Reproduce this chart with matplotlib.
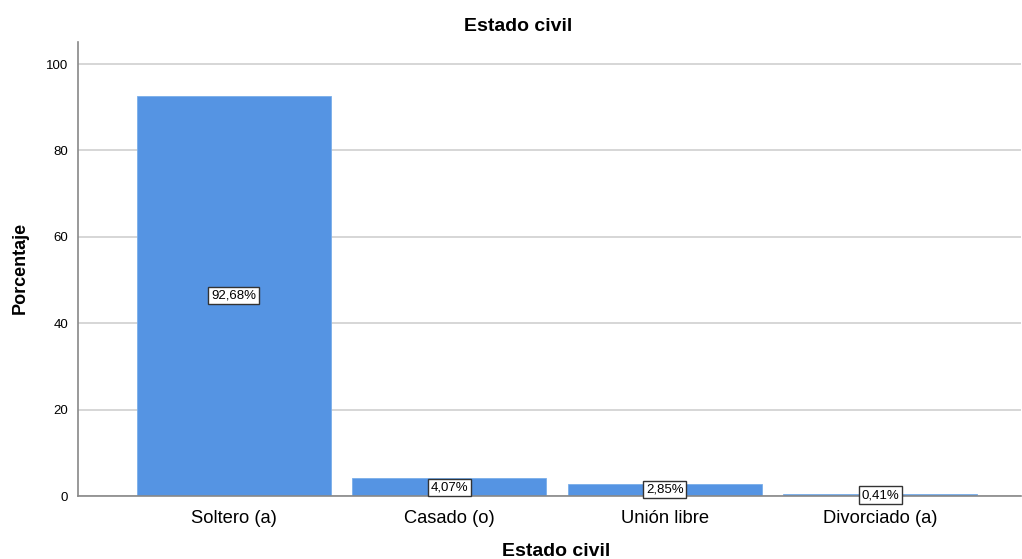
import matplotlib
matplotlib.use("Agg")
from matplotlib import pyplot as plt

categories = ["Soltero (a)", "Casado (o)", "Unión libre", "Divorciado (a)"]
percentages = [92.68, 4.07, 2.85, 0.41]
value_labels = ["92,68%", "4,07%", "2,85%", "0,41%"]
y_ticks = [0, 20, 40, 60, 80, 100]

plt.rcParams['font.family'] = ['Liberation Sans', 'DejaVu Sans']

fig = plt.figure(figsize=(10.22, 5.59), dpi=100)
ax = fig.add_axes([0.0763, 0.1127, 0.9227, 0.8122])

x = list(range(len(categories)))
ax.bar(x, percentages, width=0.9, color="#5594e3", edgecolor="#7aaeea", linewidth=0.6, zorder=2)

for xi, v, lab in zip(x, percentages, value_labels):
    ax.text(xi, v / 2, lab, ha="center", va="center", fontsize=9.5, zorder=4,
            bbox=dict(boxstyle="square,pad=0.2", facecolor="white", edgecolor="#333333", linewidth=1.0))

ax.set_xlim(-0.722, 3.652)
ax.set_ylim(0, 105.1)
ax.set_yticks(y_ticks)
ax.set_xticks(x)
ax.set_xticklabels(categories, fontsize=13.2)
ax.tick_params(axis="y", labelsize=9.5, length=0, pad=7)
ax.tick_params(axis="x", length=0, pad=10)
ax.yaxis.grid(True, color="#d6d6d6", linewidth=1.4, zorder=0)
ax.set_axisbelow(True)

for side in ["top", "right"]:
    ax.spines[side].set_visible(False)
for side in ["left", "bottom"]:
    ax.spines[side].set_color("#888888")
    ax.spines[side].set_linewidth(1.2)
    ax.spines[side].set_zorder(3)

fig.text(0.507, 0.953, "Estado civil", ha="center", va="center", fontsize=14, fontweight="bold")
fig.text(0.544, 0.014, "Estado civil", ha="center", va="center", fontsize=14, fontweight="bold")
fig.text(0.020, 0.52, "Porcentaje", ha="center", va="center", rotation=90, fontsize=13, fontweight="bold")

plt.savefig("out.png", dpi=100)
plt.close()
